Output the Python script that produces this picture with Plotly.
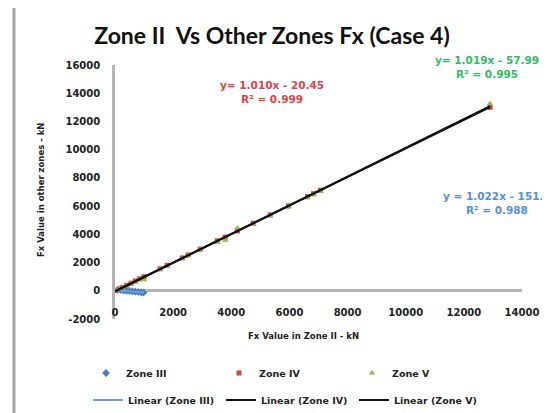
import plotly.graph_objects as go

# ---------------- data ----------------
zone3_x = [100, 200, 300, 400, 500, 600, 700, 800, 900, 980]
zone3_y = [60, 40, 20, 0, -20, -40, -60, -80, -110, -130]

zone45_x = [50, 150, 250, 400, 550, 700, 850, 1000, 1550, 1790, 2310, 2520,
            2930, 3520, 3790, 4210, 4760, 5340, 5970, 6620, 6830, 7070, 12900]
zone4_y = [40, 130, 240, 390, 540, 700, 850, 1000, 1560, 1800, 2330, 2540,
           2950, 3540, 3800, 4240, 4790, 5380, 6010, 6670, 6880, 7120, 13000]
zone5_y = [20, 110, 200, 330, 480, 620, 760, 780, 1500, 1720, 2280, 2500,
           2900, 3420, 3580, 4450, 4750, 5300, 5950, 6600, 6800, 7050, 13250]

lin3_x = [0, 1000]
lin3_y = [40, -120]
lin4_x = [0, 12900]
lin4_y = [-20, 13010]
lin5_x = [0, 12900]
lin5_y = [-58, 13087]

x_ticks = [0, 2000, 4000, 6000, 8000, 10000, 12000, 14000]
y_ticks = [-2000, 0, 2000, 4000, 6000, 8000, 10000, 12000, 14000, 16000]

title_text = "Zone II  Vs Other Zones Fx (Case 4)"
eq4 = "y= 1.010x - 20.45<br>R² = 0.999"
eq5 = "y= 1.019x - 57.99<br>R² = 0.995"
eq3 = "y = 1.022x - 151.3<br>R² = 0.988"

# ---------------- layout geometry (screen px, page has 8px body margin) ----------------
OFF = 8
W, H = 550 - OFF, 413 - OFF
PL, PR, PT, PB = 115, 522, 65, 319          # plot area on screen
L, T = PL - OFF, PT - OFF
R, B = W - (PR - OFF), H - (PB - OFF)
pw, ph = PR - PL, PB - PT


def px(x):
    return (x - PL) / pw


def py(y):
    return (PB - y) / ph


BLUE = "#4a7ebb"
RED = "#be4b48"
GREEN = "#98b954"
TICKF = dict(family="DejaVu Sans", size=10, color="#222222", weight="bold")
SMALLF = dict(family="DejaVu Sans", size=8.5, color="#222222", weight="bold")
LEGF = dict(family="DejaVu Sans", size=9.5, color="#222222", weight="bold")

fig = go.Figure()
fig.add_trace(go.Scatter(x=zone3_x, y=zone3_y, mode="markers", name="Zone III",
                         marker=dict(symbol="diamond", size=6, color=BLUE), legend="legend"))
fig.add_trace(go.Scatter(x=zone45_x, y=zone4_y, mode="markers", name="Zone IV",
                         marker=dict(symbol="square", size=5, color=RED), legend="legend"))
fig.add_trace(go.Scatter(x=zone45_x, y=zone5_y, mode="markers", name="Zone V",
                         marker=dict(symbol="triangle-up", size=6, color=GREEN), legend="legend"))
fig.add_trace(go.Scatter(x=lin3_x, y=lin3_y, mode="lines", name="Linear (Zone III)",
                         line=dict(color="#6f9bd8", width=2), legend="legend2"))
fig.add_trace(go.Scatter(x=lin4_x, y=lin4_y, mode="lines", name="Linear (Zone IV)",
                         line=dict(color="#111111", width=2), legend="legend2"))
fig.add_trace(go.Scatter(x=lin5_x, y=lin5_y, mode="lines", name="Linear (Zone V)",
                         line=dict(color="#111111", width=2), legend="legend2"))

leg_common = dict(orientation="h", font=LEGF, entrywidthmode="pixels", entrywidth=88,
                  xanchor="left", yanchor="middle", bgcolor="rgba(0,0,0,0)",
                  itemwidth=30, tracegroupgap=0)
fig.update_layout(
    width=W, height=H,
    margin=dict(l=L, r=R, t=T, b=B, pad=0, autoexpand=False),
    paper_bgcolor="white", plot_bgcolor="white",
    showlegend=True,
    legend=dict(x=px(86), y=py(373), **leg_common),
    legend2=dict(x=px(88), y=py(400), **leg_common),
    title=dict(text=title_text, xref="container", x=(272 - OFF) / W, xanchor="center",
               y=1 - (36 - OFF) / H, yanchor="middle",
               font=dict(family="Lato", size=23, color="#111111", weight="bold")),
    xaxis=dict(range=[0, 14000], tickvals=x_ticks, ticktext=[str(v) for v in x_ticks],
               showgrid=False, zeroline=False, showline=False, ticks="",
               tickfont=TICKF, anchor="free", position=py(305),
               automargin=False),
    yaxis=dict(range=[-2000, 16000], tickvals=y_ticks, ticktext=[str(v) for v in y_ticks],
               showgrid=False, zeroline=True, zerolinecolor="#b4b4b4", zerolinewidth=2.5,
               showline=True, linecolor="#b4b4b4", linewidth=2.5, ticks="",
               tickfont=TICKF, ticklabelstandoff=10, automargin=False),
)

EQF = dict(family="DejaVu Sans", size=10.5, weight="bold")
annos = [
    dict(text=eq4, x=px(272), y=py(92), font=dict(color="#dd4444", **EQF)),
    dict(text=eq5, x=px(487), y=py(67), font=dict(color="#33bb66", **EQF)),
    dict(text=eq3, x=px(497), y=py(203), font=dict(color="#5590d8", **EQF)),
    dict(text="Fx Value in Zone II - kN", x=px(303), y=py(336), font=SMALLF),
    dict(text="Fx Value in other zones - kN", x=px(41), y=py(190), textangle=-90, font=SMALLF),
]
for a in annos:
    fig.add_annotation(xref="paper", yref="paper", showarrow=False,
                       xanchor="center", yanchor="middle", **a)

# chart border (left and top edges visible)
fig.add_shape(type="line", xref="paper", yref="paper", x0=px(14), x1=px(14), y0=py(5), y1=py(420),
              line=dict(color="#a8a8a8", width=3))
fig.add_shape(type="line", xref="paper", yref="paper", x0=px(14), x1=px(560), y0=py(5), y1=py(5),
              line=dict(color="#a8a8a8", width=3))

fig.write_html("out.html")
